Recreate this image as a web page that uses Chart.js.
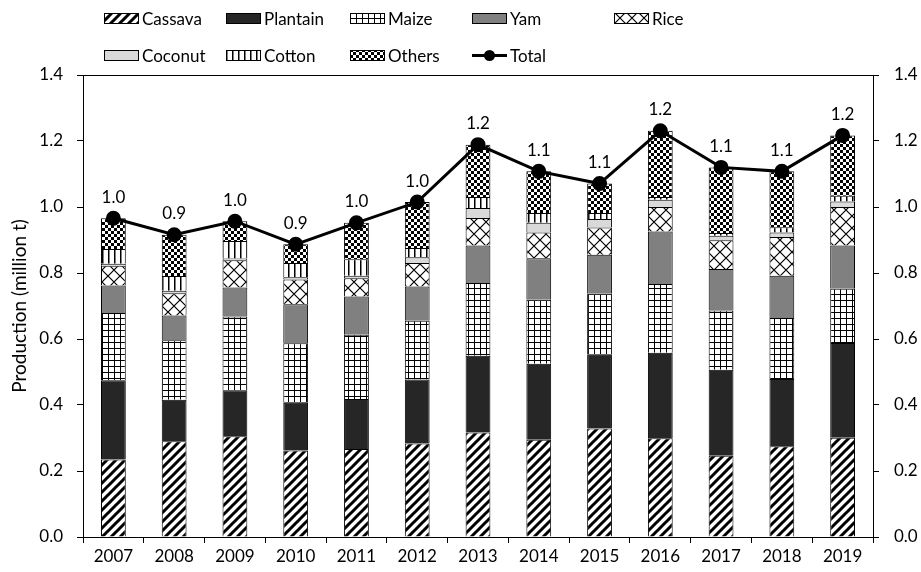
<!DOCTYPE html>
<html>
<head>
<meta charset="utf-8">
<script src="https://cdn.jsdelivr.net/npm/chart.js@4/dist/chart.umd.min.js"></script>
<style>
  body { margin: 0; background: #fff; }
  #wrap { position: relative; width: 921px; height: 572px; }
  #legend { position: absolute; left: 0; top: 0; width: 921px; height: 70px; font-family: Lato, sans-serif; font-size: 17px; color: #000; }
  .item { position: absolute; display: flex; align-items: center; height: 20px; }
  .item canvas { margin-right: 3px; }
</style>
</head>
<body>
<div id="wrap">
  <canvas id="chart" width="921" height="572"></canvas>
  <div id="legend"></div>
</div>
<script>
// Production of major crops, 2007-2019 (million t)
const years = ['2007', '2008', '2009', '2010', '2011', '2012', '2013', '2014', '2015', '2016', '2017', '2018', '2019'];
const cassava  = [0.235, 0.290, 0.305, 0.262, 0.267, 0.283, 0.317, 0.295, 0.329, 0.299, 0.246, 0.275, 0.301];
const plantain = [0.240, 0.126, 0.140, 0.145, 0.151, 0.194, 0.232, 0.230, 0.223, 0.259, 0.261, 0.204, 0.287];
const maize    = [0.204, 0.180, 0.223, 0.180, 0.195, 0.178, 0.221, 0.194, 0.185, 0.209, 0.179, 0.185, 0.164];
const yam      = [0.083, 0.075, 0.088, 0.118, 0.116, 0.104, 0.113, 0.126, 0.118, 0.159, 0.126, 0.128, 0.131];
const rice     = [0.060, 0.068, 0.083, 0.075, 0.055, 0.071, 0.084, 0.078, 0.083, 0.074, 0.087, 0.117, 0.117];
const coconut  = [0.006, 0.007, 0.005, 0.007, 0.008, 0.018, 0.030, 0.029, 0.026, 0.022, 0.014, 0.014, 0.017];
const cotton   = [0.045, 0.045, 0.053, 0.043, 0.050, 0.028, 0.033, 0.030, 0.018, 0.008, 0.008, 0.016, 0.017];
const others   = [0.093, 0.125, 0.060, 0.057, 0.110, 0.139, 0.159, 0.126, 0.089, 0.201, 0.199, 0.169, 0.183];
const total    = [0.966, 0.916, 0.957, 0.887, 0.952, 1.015, 1.189, 1.108, 1.071, 1.231, 1.120, 1.108, 1.217];
const yTicks   = [0.0, 0.2, 0.4, 0.6, 0.8, 1.0, 1.2, 1.4];

// pattern tiles
function makePattern(kind) {
  const t = document.createElement('canvas');
  const c = t.getContext('2d');
  let s = 8;
  if (kind === 'hatch') s = 9;
  if (kind === 'grid') s = 6;
  if (kind === 'cross') s = 12;
  if (kind === 'vert') s = 6;
  if (kind === 'check') s = 6;
  t.width = s; t.height = s;
  c.fillStyle = '#fff';
  c.fillRect(0, 0, s, s);
  c.strokeStyle = '#000';
  c.fillStyle = '#000';
  if (kind === 'hatch') {
    c.lineWidth = 3;
    c.beginPath();
    c.moveTo(-s, s); c.lineTo(s, -s);
    c.moveTo(0, s); c.lineTo(s, 0);
    c.moveTo(0, 2 * s); c.lineTo(2 * s, 0);
    c.stroke();
  } else if (kind === 'grid') {
    c.fillRect(0, 0, s, 1);
    c.fillRect(0, 0, 1, s);
  } else if (kind === 'cross') {
    c.lineWidth = 1.2;
    c.beginPath();
    c.moveTo(0, 0); c.lineTo(s, s);
    c.moveTo(s, 0); c.lineTo(0, s);
    c.stroke();
  } else if (kind === 'vert') {
    c.fillRect(0, 0, 1.5, s);
  } else if (kind === 'check') {
    c.fillRect(0, 0, 3, 3);
    c.fillRect(3, 3, 3, 3);
  }
  return document.createElement('canvas').getContext('2d').createPattern(t, 'repeat');
}

const fills = {
  Cassava: makePattern('hatch'),
  Plantain: '#262626',
  Maize: makePattern('grid'),
  Yam: '#808080',
  Rice: makePattern('cross'),
  Coconut: '#d9d9d9',
  Cotton: makePattern('vert'),
  Others: makePattern('check')
};

const series = [
  ['Cassava', cassava], ['Plantain', plantain], ['Maize', maize], ['Yam', yam],
  ['Rice', rice], ['Coconut', coconut], ['Cotton', cotton], ['Others', others]
];

const datasets = series.map(function(s) {
  return {
    type: 'bar',
    label: s[0],
    data: s[1],
    backgroundColor: fills[s[0]],
    borderColor: '#000',
    borderWidth: 1,
    stack: 'crops',
    order: 1,
    categoryPercentage: 0.8,
    barPercentage: 0.51
  };
});
datasets.push({
  type: 'line',
  label: 'Total',
  data: total,
  borderColor: '#000',
  borderWidth: 3,
  pointRadius: 6,
  pointBackgroundColor: '#000',
  pointBorderColor: '#000',
  stack: 'total',
  order: 0
});

// labels above the total markers + top frame line
const extras = {
  id: 'extras',
  afterDatasetsDraw(chart) {
    const ctx = chart.ctx;
    const meta = chart.getDatasetMeta(chart.data.datasets.length - 1);
    ctx.save();
    ctx.font = '17px Lato, sans-serif';
    ctx.fillStyle = '#000';
    ctx.textAlign = 'center';
    ctx.textBaseline = 'middle';
    meta.data.forEach(function(p, i) {
      ctx.fillText(total[i].toFixed(1), p.x, p.y - 21);
    });
    const a = chart.chartArea;
    ctx.strokeStyle = '#000';
    ctx.lineWidth = 1;
    ctx.beginPath();
    ctx.moveTo(a.left, a.top + 0.5);
    ctx.lineTo(a.right, a.top + 0.5);
    ctx.stroke();
    ctx.restore();
  }
};

const tickFont = { family: 'Lato, sans-serif', size: 17 };
function yAxis(pos, w) {
  return {
    position: pos,
    stacked: true,
    min: 0,
    max: 1.4,
    afterBuildTicks: function(axis) { axis.ticks = yTicks.map(function(v) { return { value: v }; }); },
    afterFit: function(axis) { axis.width = w; },
    ticks: { font: tickFont, color: '#000', padding: pos === 'left' ? 14 : 15, callback: function(v) { return v.toFixed(1); } },
    grid: { display: true, drawOnChartArea: false, drawTicks: true, tickLength: 6, color: '#000' },
    border: { display: true, color: '#000' }
  };
}

const scales = {
  x: {
    stacked: true,
    afterFit: function(axis) { axis.height = 35; },
    ticks: { font: tickFont, color: '#000', padding: 3 },
    grid: { display: true, drawOnChartArea: false, drawTicks: true, tickLength: 6, color: '#000', offset: true },
    border: { display: true, color: '#000' }
  },
  y: yAxis('left', 83),
  y2: yAxis('right', 48)
};
scales.y.title = { display: true, text: 'Production (million t)', font: { family: 'Lato, sans-serif', size: 19 }, color: '#000', padding: { top: 8, bottom: 0 } };

new Chart(document.getElementById('chart'), {
  data: { labels: years, datasets: datasets },
  options: {
    responsive: false,
    animation: false,
    layout: { padding: { top: 75, left: 0, right: 0, bottom: 0 } },
    plugins: { legend: { display: false }, tooltip: { enabled: false } },
    scales: scales
  },
  plugins: [extras]
});

// legend laid out as in the original (two rows)
const legendItems = [
  ['Cassava', 104, 18], ['Plantain', 226, 18], ['Maize', 350, 18], ['Yam', 472, 18], ['Rice', 614, 18],
  ['Coconut', 104, 55], ['Cotton', 226, 55], ['Others', 350, 55], ['Total', 472, 55]
];
const legend = document.getElementById('legend');
legendItems.forEach(function(it) {
  const d = document.createElement('div');
  d.className = 'item';
  d.style.left = it[1] + 'px';
  d.style.top = (it[2] - 10) + 'px';
  const sw = document.createElement('canvas');
  sw.width = 35; sw.height = 13;
  const c = sw.getContext('2d');
  if (it[0] === 'Total') {
    c.strokeStyle = '#000'; c.lineWidth = 3;
    c.beginPath(); c.moveTo(0, 6.5); c.lineTo(35, 6.5); c.stroke();
    c.fillStyle = '#000';
    c.beginPath(); c.arc(17.5, 6.5, 5.5, 0, Math.PI * 2); c.fill();
  } else {
    c.fillStyle = fills[it[0]];
    c.fillRect(0.5, 1.5, 34, 10);
    c.strokeStyle = '#000'; c.lineWidth = 1;
    c.strokeRect(0.5, 1.5, 34, 10);
  }
  d.appendChild(sw);
  const s = document.createElement('span');
  s.textContent = it[0];
  d.appendChild(s);
  legend.appendChild(d);
});
</script>
</body>
</html>
